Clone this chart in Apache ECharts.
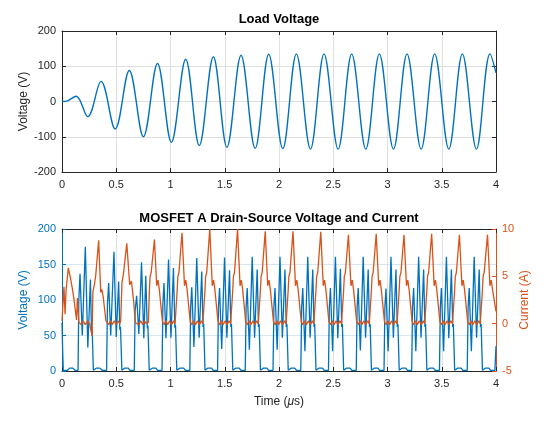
<!DOCTYPE html>
<html>
<head>
<meta charset="utf-8">
<script src="https://cdn.jsdelivr.net/npm/echarts@6/dist/echarts.min.js"></script>
<style>
  html, body { margin: 0; padding: 0; background: #fff; }
  #chart { width: 552px; height: 434px; }
</style>
</head>
<body>
<div id="chart"></div>
<script>
// Load voltage: peaks and troughs [time us, V]
var loadVoltage = [
  [0, 0], [0.035, 0.3], [0.13, 15], [0.237, -43], [0.36, 57],
  [0.49, -78], [0.62, 88], [0.75, -100], [0.88, 108],
  [1.008, -116], [1.14, 120], [1.265, -125], [1.395, 127],
  [1.52, -130], [1.65, 131], [1.78, -133], [1.905, 134],
  [2.035, -134], [2.16, 135], [2.29, -135], [2.415, 135],
  [2.545, -135], [2.67, 135], [2.80, -135], [2.925, 135],
  [3.055, -135], [3.18, 135], [3.31, -135], [3.435, 135],
  [3.565, -135], [3.69, 135], [3.82, -135], [3.945, 135], [4.0, 81]
];

// MOSFET A drain-source voltage [time us, V]
var mosfetVoltage = [
  [0, 68], [0.006, 30], [0.012, 1], [0.05, 1], [0.07, 4], [0.10, 4], [0.12, 1],
  [0.148, 1], [0.155, 100], [0.166, 137], [0.187, 50], [0.215, 175], [0.238, 33], [0.262, 129], [0.272, 55], [0.278, 60], [0.289, 1], [0.315, 4], [0.35, 4], [0.37, 1],
  [0.411, 1], [0.419, 95], [0.430, 124], [0.449, 50], [0.479, 168], [0.500, 48], [0.522, 126], [0.533, 58], [0.539, 62], [0.552, 1], [0.576, 4], [0.611, 4], [0.626, 1],
  [0.666, 1], [0.674, 85], [0.688, 106], [0.708, 52], [0.733, 153], [0.754, 46], [0.772, 134], [0.786, 60], [0.792, 64], [0.804, 1], [0.831, 4], [0.866, 4], [0.881, 1],
  [0.922, 1], [0.930, 95], [0.940, 124], [0.958, 46], [0.982, 157], [1.004, 47], [1.027, 145], [1.040, 61], [1.046, 65], [1.058, 1], [1.087, 4], [1.122, 4], [1.137, 1],
  [1.178, 1], [1.186, 90], [1.196, 118], [1.216, 34], [1.242, 159], [1.264, 47], [1.288, 140], [1.300, 62], [1.306, 66], [1.318, 1], [1.343, 4], [1.378, 4], [1.393, 1],
  [1.434, 1], [1.442, 90], [1.452, 117], [1.472, 31], [1.498, 160], [1.520, 47], [1.544, 142], [1.556, 62], [1.562, 66], [1.574, 1], [1.599, 4], [1.634, 4], [1.649, 1],
  [1.689, 1], [1.697, 90], [1.707, 117], [1.727, 30], [1.753, 161], [1.775, 47], [1.799, 143], [1.811, 62], [1.817, 66], [1.829, 1], [1.854, 4], [1.889, 4], [1.904, 1],
  [1.945, 1], [1.953, 90], [1.963, 117], [1.983, 30], [2.009, 161], [2.031, 47], [2.055, 143], [2.067, 62], [2.073, 66], [2.085, 1], [2.110, 4], [2.145, 4], [2.160, 1],
  [2.201, 1], [2.209, 90], [2.219, 117], [2.239, 28], [2.265, 161], [2.287, 47], [2.311, 143], [2.323, 62], [2.329, 66], [2.341, 1], [2.366, 4], [2.401, 4], [2.416, 1],
  [2.456, 1], [2.464, 90], [2.474, 117], [2.494, 28], [2.520, 161], [2.542, 46], [2.566, 144], [2.578, 62], [2.584, 66], [2.596, 1], [2.621, 4], [2.656, 4], [2.671, 1],
  [2.712, 1], [2.720, 90], [2.730, 117], [2.750, 29], [2.776, 161], [2.798, 47], [2.822, 143], [2.834, 62], [2.840, 66], [2.852, 1], [2.877, 4], [2.912, 4], [2.927, 1],
  [2.968, 1], [2.976, 90], [2.986, 116], [3.006, 28], [3.032, 161], [3.054, 47], [3.078, 143], [3.090, 62], [3.096, 66], [3.108, 1], [3.133, 4], [3.168, 4], [3.183, 1],
  [3.223, 1], [3.231, 90], [3.241, 117], [3.261, 28], [3.287, 161], [3.309, 47], [3.333, 143], [3.345, 62], [3.351, 66], [3.363, 1], [3.388, 4], [3.423, 4], [3.438, 1],
  [3.479, 1], [3.487, 90], [3.497, 117], [3.517, 28], [3.543, 161], [3.565, 46], [3.589, 143], [3.601, 62], [3.607, 66], [3.619, 1], [3.644, 4], [3.679, 4], [3.694, 1],
  [3.735, 1], [3.743, 90], [3.753, 117], [3.773, 28], [3.799, 161], [3.821, 47], [3.845, 143], [3.857, 62], [3.863, 66], [3.875, 1], [3.900, 4], [3.935, 4], [3.950, 1],
  [3.990, 1], [4.0, 35]
];

// MOSFET A drain current [time us, A]
var mosfetCurrent = [
  [0, 0.3], [0.018, 3.9], [0.028, 1.0], [0.038, 3.6], [0.058, 5.9], [0.078, 4.8], [0.097, 3.6], [0.110, 2.6], [0.123, 1.4], [0.134, 0.4], [0.142, 2.7],
  [0.155, 0.2], [0.175, -0.1], [0.195, 0.3], [0.215, -0.1], [0.235, 0.3], [0.255, 0.0], [0.270, 0.1], [0.277, -1.3], [0.285, 3.4], [0.298, 4.1], [0.310, 5.0], [0.338, 8.8], [0.357, 3.3], [0.368, 3.6], [0.380, 2.8], [0.405, 0.3],
  [0.415, 0.2], [0.431, -0.1], [0.447, 0.3], [0.463, -0.1], [0.481, 0.3], [0.499, -0.1], [0.517, 0.3], [0.533, 0.0], [0.541, 0.3], [0.553, 4.4], [0.566, 5.2], [0.597, 8.5], [0.624, 4.1], [0.640, 4.5], [0.660, 2.4], [0.676, 0.1],
  [0.692, 0.3], [0.708, -0.1], [0.726, 0.3], [0.744, -0.1], [0.762, 0.3], [0.776, 0.0], [0.796, 0.1], [0.805, 3.4], [0.812, 5.0], [0.822, 5.4], [0.852, 8.9], [0.873, 4.0], [0.885, 4.6], [0.897, 3.6],
  [0.926, 0.2], [0.942, -0.1], [0.958, 0.3], [0.974, -0.1], [0.992, 0.3], [1.010, -0.1], [1.028, 0.3], [1.042, 0.0], [1.052, 0.1], [1.061, 3.4], [1.068, 5.0], [1.078, 5.4], [1.106, 9.6], [1.129, 4.0], [1.141, 4.6], [1.153, 3.6],
  [1.182, 0.2], [1.198, -0.1], [1.214, 0.3], [1.230, -0.1], [1.248, 0.3], [1.266, -0.1], [1.284, 0.3], [1.298, 0.0], [1.308, 0.1], [1.317, 3.4], [1.324, 5.0], [1.334, 5.4], [1.362, 10.0], [1.385, 4.0], [1.397, 4.6], [1.409, 3.6],
  [1.438, 0.2], [1.454, -0.1], [1.470, 0.3], [1.486, -0.1], [1.504, 0.3], [1.522, -0.1], [1.540, 0.3], [1.554, 0.0], [1.564, 0.1], [1.573, 3.4], [1.580, 5.0], [1.590, 5.4], [1.618, 10.0], [1.641, 4.0], [1.653, 4.6], [1.665, 3.6],
  [1.693, 0.2], [1.709, -0.1], [1.725, 0.3], [1.741, -0.1], [1.759, 0.3], [1.777, -0.1], [1.795, 0.3], [1.809, 0.0], [1.819, 0.1], [1.828, 3.4], [1.835, 5.0], [1.845, 5.4], [1.873, 9.75], [1.896, 4.0], [1.908, 4.6], [1.920, 3.6],
  [1.949, 0.2], [1.965, -0.1], [1.981, 0.3], [1.997, -0.1], [2.015, 0.3], [2.033, -0.1], [2.051, 0.3], [2.065, 0.0], [2.075, 0.1], [2.084, 3.4], [2.091, 5.0], [2.101, 5.4], [2.129, 9.75], [2.152, 4.0], [2.164, 4.6], [2.176, 3.6],
  [2.205, 0.2], [2.221, -0.1], [2.237, 0.3], [2.253, -0.1], [2.271, 0.3], [2.289, -0.1], [2.307, 0.3], [2.321, 0.0], [2.331, 0.1], [2.340, 3.4], [2.347, 5.0], [2.357, 5.4], [2.385, 9.7], [2.408, 4.0], [2.420, 4.6], [2.432, 3.6],
  [2.460, 0.2], [2.476, -0.1], [2.492, 0.3], [2.508, -0.1], [2.526, 0.3], [2.544, -0.1], [2.562, 0.3], [2.576, 0.0], [2.586, 0.1], [2.595, 3.4], [2.602, 5.0], [2.612, 5.4], [2.640, 9.4], [2.663, 4.0], [2.675, 4.6], [2.687, 3.6],
  [2.716, 0.2], [2.732, -0.1], [2.748, 0.3], [2.764, -0.1], [2.782, 0.3], [2.800, -0.1], [2.818, 0.3], [2.832, 0.0], [2.842, 0.1], [2.851, 3.4], [2.858, 5.0], [2.868, 5.4], [2.896, 9.5], [2.919, 4.0], [2.931, 4.6], [2.943, 3.6],
  [2.972, 0.2], [2.988, -0.1], [3.004, 0.3], [3.020, -0.1], [3.038, 0.3], [3.056, -0.1], [3.074, 0.3], [3.088, 0.0], [3.098, 0.1], [3.107, 3.4], [3.114, 5.0], [3.124, 5.4], [3.152, 9.4], [3.175, 4.0], [3.187, 4.6], [3.199, 3.6],
  [3.227, 0.2], [3.243, -0.1], [3.259, 0.3], [3.275, -0.1], [3.293, 0.3], [3.311, -0.1], [3.329, 0.3], [3.343, 0.0], [3.353, 0.1], [3.362, 3.4], [3.369, 5.0], [3.379, 5.4], [3.407, 9.5], [3.430, 4.0], [3.442, 4.6], [3.454, 3.6],
  [3.483, 0.2], [3.499, -0.1], [3.515, 0.3], [3.531, -0.1], [3.549, 0.3], [3.567, -0.1], [3.585, 0.3], [3.599, 0.0], [3.609, 0.1], [3.618, 3.4], [3.625, 5.0], [3.635, 5.4], [3.663, 9.4], [3.686, 4.0], [3.698, 4.6], [3.710, 3.6],
  [3.739, 0.2], [3.755, -0.1], [3.771, 0.3], [3.787, -0.1], [3.805, 0.3], [3.823, -0.1], [3.841, 0.3], [3.855, 0.0], [3.865, 0.1], [3.874, 3.4], [3.881, 5.0], [3.891, 5.4], [3.922, 9.4], [3.944, 4.0], [3.956, 4.6], [3.968, 3.6], [4.0, 1.3]
];

var timeRange = [0, 4, 0.5];
var loadRange = [-200, 200, 100];
var vdsRange = [0, 200, 50];
var idRange = [-5, 10, 5];

var FONT = "'Liberation Sans', Arial, Helvetica, sans-serif";
var AX = '#262626';
var BLUE = '#0072BD';
var ORANGE = '#D95319';

function xAx(grid, pos, labels, name) {
    return {
        type: 'value', gridIndex: grid, position: pos,
        min: timeRange[0], max: timeRange[1], interval: timeRange[2],
        name: name || '', nameLocation: 'middle', nameGap: 25, nameMoveOverlap: false,
        nameTextStyle: { color: AX, fontSize: 12, fontFamily: FONT, rich: { i: { fontStyle: 'italic', fontSize: 12, fontFamily: FONT, color: AX } } },
        axisLine: { show: true, onZero: false, lineStyle: { color: AX, width: 1 } },
        axisTick: { show: true, inside: true, length: 4, lineStyle: { color: AX } },
        axisLabel: { show: labels, color: AX, fontSize: 11, fontFamily: FONT, margin: 7 },
        splitLine: { show: labels, lineStyle: { color: '#dfdfdf', width: 1 } }
    };
}

function yAx(grid, pos, range, color, labels, name, gap, split) {
    return {
        type: 'value', gridIndex: grid, position: pos,
        min: range[0], max: range[1], interval: range[2],
        name: name || '', nameLocation: 'middle', nameRotate: 90, nameGap: gap || 30, nameMoveOverlap: false,
        nameTextStyle: { color: color, fontSize: 12, fontFamily: FONT },
        axisLine: { show: true, onZero: false, lineStyle: { color: color, width: 1 } },
        axisTick: { show: true, inside: true, length: 4, lineStyle: { color: color } },
        axisLabel: { show: labels, color: color, fontSize: 11, fontFamily: FONT, margin: 6 },
        splitLine: { show: !!split, lineStyle: { color: split || '#dfdfdf', width: 1 } }
    };
}

var chart = echarts.init(document.getElementById('chart'), null, { renderer: 'canvas' });

var option = {
    animation: false,
    backgroundColor: '#fff',
    title: [
        { text: 'Load Voltage', left: 279, top: 13, textAlign: 'center', padding: 0,
          textStyle: { fontSize: 13, fontWeight: 'bold', color: '#000', fontFamily: FONT } },
        { text: 'MOSFET A Drain-Source Voltage and Current', left: 279, top: 212, textAlign: 'center', padding: 0,
          textStyle: { fontSize: 13, fontWeight: 'bold', color: '#000', fontFamily: FONT } }
    ],
    grid: [
        { left: 62, top: 31, width: 434, height: 141 },
        { left: 62, top: 229, width: 434, height: 142 }
    ],
    xAxis: [
        xAx(0, 'bottom', true),
        xAx(0, 'top', false),
        xAx(1, 'bottom', true, 'Time ({i|μ}s)'),
        xAx(1, 'top', false)
    ],
    yAxis: [
        yAx(0, 'left', loadRange, AX, true, 'Voltage (V)', 32, '#dfdfdf'),
        yAx(0, 'right', loadRange, AX, false),
        yAx(1, 'left', vdsRange, BLUE, true, 'Voltage (V)', 32, '#d6e6f2'),
        yAx(1, 'right', idRange, ORANGE, true, 'Current (A)', 23)
    ],
    series: [
        { type: 'line', name: 'Load Voltage', xAxisIndex: 0, yAxisIndex: 0, data: loadVoltage,
          smooth: 0.36, showSymbol: false, lineStyle: { color: BLUE, width: 1.4 } },
        { type: 'line', name: 'Vds', xAxisIndex: 2, yAxisIndex: 2, data: mosfetVoltage,
          showSymbol: false, lineStyle: { color: BLUE, width: 1.3 } },
        { type: 'line', name: 'Id', xAxisIndex: 2, yAxisIndex: 3, data: mosfetCurrent,
          showSymbol: false, lineStyle: { color: ORANGE, width: 1.3 } }
    ]
};

chart.setOption(option);
window.addEventListener('resize', function () {
    chart.resize();
});
</script>
</body>
</html>
